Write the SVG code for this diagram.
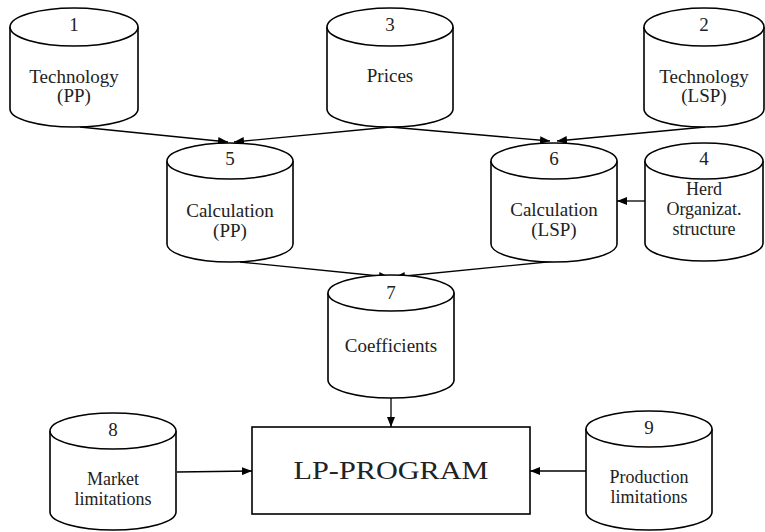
<svg xmlns="http://www.w3.org/2000/svg" width="765" height="532" viewBox="0 0 765 532">
<style>
.cyl{fill:#fff;stroke:#000;stroke-width:1.6}
.t{font-family:"Liberation Serif","Times New Roman",serif;font-size:19px;fill:#222;text-anchor:middle}
.s{font-size:18px}
.c{fill:none;stroke:#000;stroke-width:1.3}
.box{fill:#fff;stroke:#000;stroke-width:1.6}
</style>
<defs>
<marker id="ah" markerWidth="10" markerHeight="8" refX="10" refY="4" orient="auto" markerUnits="userSpaceOnUse">
<path d="M0,0 L10,4 L0,8 z" fill="#000"/>
</marker>
</defs>
<g id="connectors">
<path class="c" d="M80,127 L228,142" marker-end="url(#ah)"/>
<path class="c" d="M390,127 L234,142" marker-end="url(#ah)"/>
<path class="c" d="M390,127 L550,141" marker-end="url(#ah)"/>
<path class="c" d="M705,127 L557,141" marker-end="url(#ah)"/>
<path class="c" d="M240,262 L389,277" marker-end="url(#ah)"/>
<path class="c" d="M557,261 L395,277" marker-end="url(#ah)"/>
<path class="c" d="M645,201 L617,201" marker-end="url(#ah)"/>
<path class="c" d="M391,398 L391,427" marker-end="url(#ah)"/>
<path class="c" d="M177,472 L252,471" marker-end="url(#ah)"/>
<path class="c" d="M586,471 L530,471" marker-end="url(#ah)"/>
</g>
<g id="n1">
<path class="cyl" d="M10,27 L10,109 A64,18 0 0 0 138,109 L138,27"/>
<ellipse class="cyl" cx="74" cy="27" rx="64" ry="19"/>
<text class="t" x="74" y="31">1</text>
<text class="t" x="74" y="83">Technology</text>
<text class="t" x="74" y="102">(PP)</text>
</g>
<g id="n3">
<path class="cyl" d="M327,27 L327,109 A63,18 0 0 0 453,109 L453,27"/>
<ellipse class="cyl" cx="390" cy="27" rx="63" ry="19"/>
<text class="t" x="390" y="31">3</text>
<text class="t" x="390" y="82">Prices</text>
</g>
<g id="n2">
<path class="cyl" d="M644,27 L644,109 A60,18 0 0 0 764,109 L764,27"/>
<ellipse class="cyl" cx="704" cy="27" rx="60" ry="19"/>
<text class="t" x="704" y="31">2</text>
<text class="t" x="704" y="83">Technology</text>
<text class="t" x="704" y="102">(LSP)</text>
</g>
<g id="n5">
<path class="cyl" d="M167,161 L167,244 A63,18 0 0 0 293,244 L293,161"/>
<ellipse class="cyl" cx="230" cy="161" rx="63" ry="18"/>
<text class="t" x="230" y="165">5</text>
<text class="t" x="230" y="217">Calculation</text>
<text class="t" x="230" y="237">(PP)</text>
</g>
<g id="n6">
<path class="cyl" d="M491,161 L491,244 A63,18 0 0 0 617,244 L617,161"/>
<ellipse class="cyl" cx="554" cy="161" rx="63" ry="18"/>
<text class="t" x="554" y="165">6</text>
<text class="t" x="554" y="216">Calculation</text>
<text class="t" x="554" y="236">(LSP)</text>
</g>
<g id="n4">
<path class="cyl" d="M645,161 L645,243 A59,18 0 0 0 763,243 L763,161"/>
<ellipse class="cyl" cx="704" cy="161" rx="59" ry="18"/>
<text class="t" x="704" y="165">4</text>
<text class="t s" x="704" y="195">Herd</text>
<text class="t s" x="704" y="215">Organizat.</text>
<text class="t s" x="704" y="235">structure</text>
</g>
<g id="n7">
<path class="cyl" d="M328,293 L328,380 A63,18 0 0 0 454,380 L454,293"/>
<ellipse class="cyl" cx="391" cy="293" rx="63" ry="18"/>
<text class="t" x="391" y="299">7</text>
<text class="t" x="391" y="352">Coefficients</text>
</g>
<g id="lp">
<rect class="box" x="252" y="427" width="278" height="87"/>
<text class="t" x="391" y="479" style="font-size:25px" textLength="195" lengthAdjust="spacingAndGlyphs">LP-PROGRAM</text>
</g>
<g id="n8">
<path class="cyl" d="M50,431 L50,512 A63,18 0 0 0 176,512 L176,431"/>
<ellipse class="cyl" cx="113" cy="431" rx="63" ry="18"/>
<text class="t" x="113" y="436">8</text>
<text class="t s" x="113" y="485">Market</text>
<text class="t s" x="113" y="505">limitations</text>
</g>
<g id="n9">
<path class="cyl" d="M586,429 L586,512 A63,18 0 0 0 712,512 L712,429"/>
<ellipse class="cyl" cx="649" cy="429" rx="63" ry="18"/>
<text class="t" x="649" y="434">9</text>
<text class="t s" x="649" y="483">Production</text>
<text class="t s" x="649" y="503">limitations</text>
</g>
</svg>
